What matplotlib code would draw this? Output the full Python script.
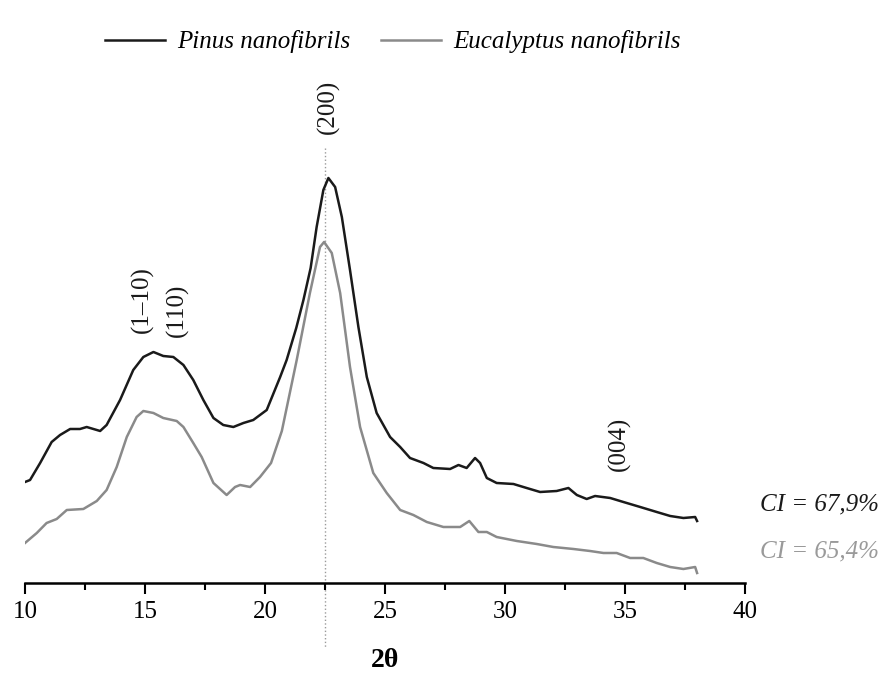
"""
XRD diffractograms of Pinus and Eucalyptus cellulose nanofibrils.
Intensity in arbitrary units, curves offset for clarity.
"""

import matplotlib.pyplot as plt
from matplotlib.ticker import MultipleLocator

plt.rcParams['font.family'] = ['Liberation Serif', 'DejaVu Serif']

# Pinus nanofibrils (black)
pinus_2theta = [10.0, 10.21, 10.63, 11.11, 11.46, 11.88, 12.29, 12.57, 13.13, 13.4,
                13.96, 14.51, 14.93, 15.35, 15.76, 16.18, 16.6, 17.01, 17.43, 17.85,
                18.26, 18.68, 19.1, 19.51, 20.07, 20.63, 20.9, 21.3, 21.6, 21.9,
                22.15, 22.43, 22.64, 22.92, 23.2, 23.54, 23.89, 24.24, 24.65, 25.21,
                25.63, 26.04, 26.6, 27.01, 27.71, 28.06, 28.4, 28.75, 28.96, 29.24,
                29.65, 30.35, 30.9, 31.46, 32.15, 32.64, 32.99, 33.4, 33.75, 34.38,
                34.93, 35.63, 36.32, 36.88, 37.43, 37.92, 38.0]
pinus_int = [101, 103, 120, 141, 148, 154, 154, 156, 152, 158,
             183, 213, 226, 231, 227, 226, 218, 203, 183, 165,
             158, 156, 160, 163, 173, 206, 223, 255, 283, 315,
             356, 393, 405, 396, 366, 313, 256, 206, 170, 146,
             136, 125, 120, 115, 114, 118, 115, 125, 120, 105,
             100, 99, 95, 91, 92, 95, 88, 84, 87, 85,
             81, 76, 71, 67, 65, 66, 62]

# Eucalyptus nanofibrils (grey)
euca_2theta = [10.0, 10.49, 10.9, 11.32, 11.74, 12.43, 12.99, 13.4, 13.82, 14.24,
               14.65, 14.93, 15.35, 15.76, 16.32, 16.6, 17.01, 17.36, 17.85, 18.4,
               18.75, 18.96, 19.38, 19.79, 20.25, 20.7, 21.32, 21.87, 22.29, 22.46,
               22.78, 23.13, 23.54, 23.96, 24.51, 25.07, 25.63, 26.18, 26.74, 27.43,
               28.13, 28.51, 28.89, 29.24, 29.65, 30.49, 31.32, 32.01, 32.85, 33.54,
               34.1, 34.65, 35.21, 35.76, 36.32, 36.88, 37.43, 37.92, 38.0]
euca_int = [40, 50, 60, 64, 73, 74, 82, 93, 116, 146,
            166, 172, 170, 165, 162, 156, 140, 126, 100, 88,
            96, 98, 96, 106, 120, 152, 223, 290, 336, 341,
            330, 290, 216, 156, 110, 90, 73, 68, 61, 56,
            56, 62, 51, 51, 46, 42, 39, 36, 34, 32,
            30, 30, 25, 25, 20, 16, 14, 16, 10]

# Peak labels (Miller indices) and their positions
peak_labels = ['(1–10)', '(110)', '(200)', '(004)']
peak_x = [14.88, 16.33, 22.64, 34.75]
peak_y = [283, 273, 476, 139]

ci_labels = ['CI = 67,9%', 'CI = 65,4%']

BLACK = '#1a1a1a'
GREY = '#8a8a8a'

fig = plt.figure(figsize=(8.87, 6.75), dpi=100)
ax = fig.add_axes([0.0282, 0.1363, 0.8118, 0.7452])

ax.plot(pinus_2theta, pinus_int, color=BLACK, linewidth=1.8, label='Pinus nanofibrils')
ax.plot(euca_2theta, euca_int, color=GREY, linewidth=1.8, label='Eucalyptus nanofibrils')

# dotted reference line at the (200) reflection
ax.plot([22.5, 22.5], [435, -65], color='#9a9a9a', linestyle=':', linewidth=1.0,
        clip_on=False, zorder=0)

for lab, x, y in zip(peak_labels, peak_x, peak_y):
    ax.text(x, y, lab, rotation=90, ha='center', va='center', fontsize=18, color=BLACK)

ax.text(45.6, 79, ci_labels[0], ha='right', va='center', fontsize=18,
        style='italic', color=BLACK, clip_on=False)
ax.text(45.6, 32, ci_labels[1], ha='right', va='center', fontsize=18,
        style='italic', color='#9a9a9a', clip_on=False)

ax.set_xlim(10, 40)
ax.set_ylim(0, 503)
ax.xaxis.set_major_locator(MultipleLocator(5))
ax.xaxis.set_minor_locator(MultipleLocator(2.5))
ax.tick_params(axis='x', which='major', length=8, width=1.5, labelsize=18, pad=5)
ax.tick_params(axis='x', which='minor', length=5, width=1.5)
ax.set_yticks([])
for side in ['left', 'right', 'top']:
    ax.spines[side].set_visible(False)
ax.spines['bottom'].set_linewidth(1.8)

ax.set_xlabel('2θ', fontsize=20, fontweight='bold', labelpad=18)

leg = fig.legend(loc='center', bbox_to_anchor=(0.443, 0.938), ncol=2, frameon=False,
                 prop={'style': 'italic', 'size': 18}, handlelength=2.4,
                 handletextpad=0.5, columnspacing=1.2)

plt.savefig('out.png', dpi=100)
